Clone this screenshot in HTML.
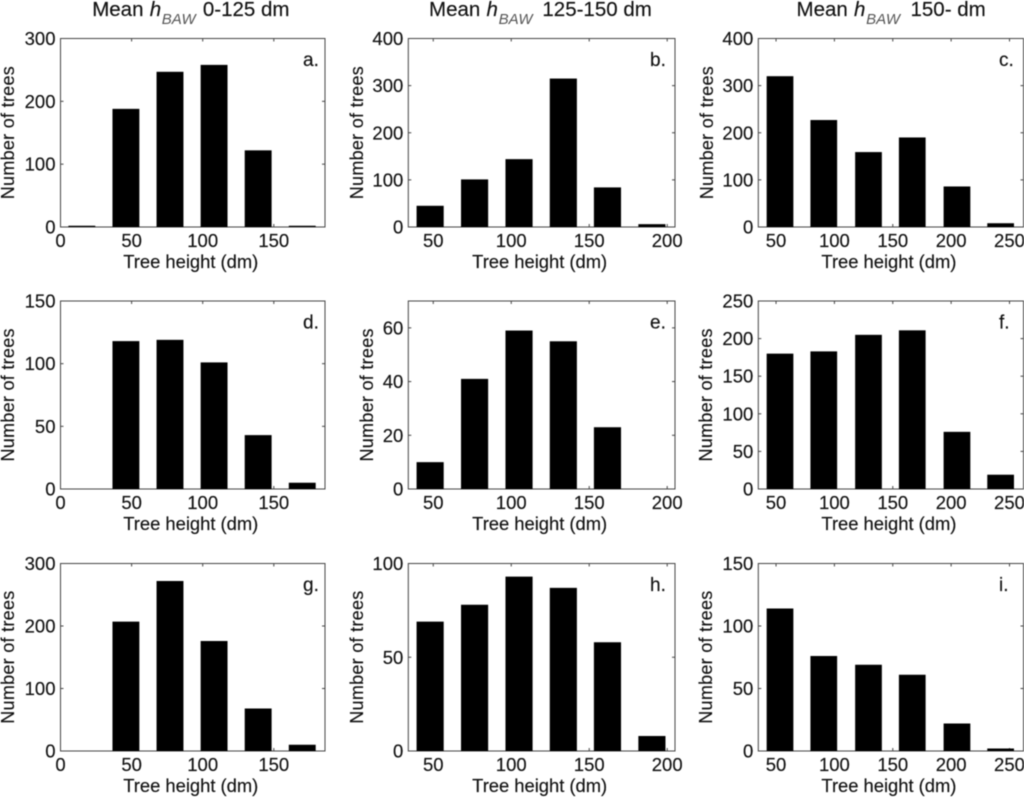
<!DOCTYPE html>
<html lang="en">
<head>
<meta charset="utf-8">
<title>Tree height histograms</title>
<style>
html,body{margin:0;padding:0;background:#fff;}
svg{display:block;filter:blur(0.4px);}
text{font-family:"Liberation Sans",Arial,sans-serif;fill:#111;stroke:#111;stroke-width:0.15px;}
</style>
</head>
<body>
<svg id="figure" xmlns="http://www.w3.org/2000/svg" width="1024" height="797" viewBox="0 0 1024 797"></svg>
<script>
// Chart data
const panelLetters = ['a.', 'b.', 'c.', 'd.', 'e.', 'f.', 'g.', 'h.', 'i.'];
const columnTitles = ['0-125 dm', '125-150 dm', '150- dm'];

const binCentersLow = [15, 46, 77, 108, 139, 170];
const binCentersMid = [48, 76.5, 105, 133.4, 161.7, 190.2];
const binCentersHigh = [53.4, 90.9, 129.2, 166.7, 205, 242.4];

const xDomainLow = [0, 186];
const xDomainMid = [34, 205];
const xDomainHigh = [34.8, 262];

const xTicksLow = [0, 50, 100, 150];
const xTicksMid = [50, 100, 150, 200];
const xTicksHigh = [50, 100, 150, 200, 250];

const valuesA = [2, 188, 247, 258, 122, 2];
const valuesB = [45, 101, 144, 315, 84, 6];
const valuesC = [320, 227, 159, 190, 86, 8];
const valuesD = [0, 118, 119, 101, 43, 5];
const valuesE = [10, 41, 59, 55, 23, 0];
const valuesF = [180, 183, 205, 211, 76, 19];
const valuesG = [0, 207, 272, 176, 68, 10];
const valuesH = [69, 78, 93, 87, 58, 8];
const valuesI = [114, 76, 69, 61, 22, 2];

const yTicksA = [0, 100, 200, 300];
const yTicksB = [0, 100, 200, 300, 400];
const yTicksC = [0, 100, 200, 300, 400];
const yTicksD = [0, 50, 100, 150];
const yTicksE = [0, 20, 40, 60];
const yTicksF = [0, 50, 100, 150, 200, 250];
const yTicksG = [0, 100, 200, 300];
const yTicksH = [0, 50, 100];
const yTicksI = [0, 50, 100, 150];

const yMaxA = 300, yMaxB = 400, yMaxC = 400;
const yMaxD = 150, yMaxE = 70, yMaxF = 250;
const yMaxG = 300, yMaxH = 100, yMaxI = 150;

const allValues = [valuesA, valuesB, valuesC, valuesD, valuesE, valuesF, valuesG, valuesH, valuesI];
const allYTicks = [yTicksA, yTicksB, yTicksC, yTicksD, yTicksE, yTicksF, yTicksG, yTicksH, yTicksI];
const allYMax = [yMaxA, yMaxB, yMaxC, yMaxD, yMaxE, yMaxF, yMaxG, yMaxH, yMaxI];
const allCenters = [binCentersLow, binCentersMid, binCentersHigh];
const allXDomains = [xDomainLow, xDomainMid, xDomainHigh];
const allXTicks = [xTicksLow, xTicksMid, xTicksHigh];

// Layout
const svg = document.getElementById('figure');
const NS = 'http://www.w3.org/2000/svg';
const layoutLeft = [60.5, 408.3, 758.3];
const layoutRight = [325, 675, 1023.5];
const layoutTop = [38.5, 301, 563.5];
const layoutBottom = [227, 489, 751];
const letterX = [303, 650, 999];
const titleStart = [92.2, 429, 796.5];
const yLabelBaseline = [[14, 363, 713], [14, 373, 712], [14, 363, 712]];
const barFraction = 0.61;
const tickLen = 3;
const axisColor = '#444';

function mk(tag, attrs, parent) {
  const el = document.createElementNS(NS, tag);
  for (const k in attrs) el.setAttribute(k, attrs[k]);
  parent.appendChild(el);
  return el;
}

function drawTitle(col) {
  const g = mk('text', {x: titleStart[col], y: 16, 'font-size': 20.5}, svg);
  
  
  const s0 = titleStart[col];
  const restOffset = [110.7, 113.4, 114][col];
  const t1 = mk('tspan', {x: s0}, g);
  t1.textContent = 'Mean';
  const t2 = mk('tspan', {x: s0 + 57.5, 'font-style': 'italic'}, g);
  t2.textContent = 'h';
  const t3 = mk('tspan', {x: s0 + 69.6, y: 24, 'font-style': 'italic', 'font-size': 15, style: 'fill:#555;stroke:none'}, g);
  t3.textContent = 'BAW';
  const t4 = mk('tspan', {x: s0 + restOffset, y: 16}, g);
  t4.textContent = columnTitles[col];
}

function drawPanel(row, col) {
  const idx = row * 3 + col;
  const letter = panelLetters[idx].charAt(0);
  const L = layoutLeft[col], R = layoutRight[col], T = layoutTop[row], B = layoutBottom[row];
  const dom = allXDomains[col];
  const centers = allCenters[col];
  const values = allValues[idx];
  const yMax = allYMax[idx];
  const xScale = v => L + (v - dom[0]) / (dom[1] - dom[0]) * (R - L);
  const yScale = v => B - v / yMax * (B - T);

  const g = mk('g', {}, svg);
  
  

  const frame = mk('rect', {x: L, y: T, width: R - L, height: B - T, fill: '#fff', stroke: axisColor, 'stroke-width': 1}, g);
  
  

  allXTicks[col].forEach(t => {
    const x = xScale(t);
    const tickB = mk('line', {x1: x, x2: x, y1: B, y2: B - tickLen, stroke: axisColor}, g);
    
    
    const tickT = mk('line', {x1: x, x2: x, y1: T, y2: T + tickLen, stroke: axisColor}, g);
    
    
    const lab = mk('text', {x: x, y: B + 20, 'font-size': 18.5, 'text-anchor': 'middle'}, g);
    
    
    lab.textContent = t;
  });

  allYTicks[idx].forEach(t => {
    const y = yScale(t);
    const tickL = mk('line', {x1: L, x2: L + tickLen, y1: y, y2: y, stroke: axisColor}, g);
    
    
    const tickR = mk('line', {x1: R, x2: R - tickLen, y1: y, y2: y, stroke: axisColor}, g);
    
    
    const lab = mk('text', {x: L - 5, y: y + 6.5, 'font-size': 18.5, 'text-anchor': 'end'}, g);
    
    
    lab.textContent = t;
  });

  const step = centers[1] - centers[0];
  const w = step * barFraction;
  values.forEach((v, i) => {
    if (v <= 0) return;
    const x0 = xScale(centers[i] - w / 2);
    const x1 = xScale(centers[i] + w / 2);
    const y = yScale(v);
    const bar = mk('rect', {x: x0, y: y, width: x1 - x0, height: B - y, fill: '#000'}, g);
    
    
  });

  const xTitle = mk('text', {x: (L + R) / 2 - 2, y: B + 41, 'font-size': 18.4, 'text-anchor': 'middle', textLength: 135, lengthAdjust: 'spacing'}, g);
  
  
  xTitle.textContent = 'Tree height (dm)';

  const bx = yLabelBaseline[row][col];
  const by = (T + B) / 2;
  const yTitle = mk('text', {x: 0, y: 0, 'font-size': 18, 'text-anchor': 'middle', textLength: 133, lengthAdjust: 'spacing', transform: 'translate(' + bx + ',' + by + ') rotate(-90)'}, g);
  
  
  yTitle.textContent = 'Number of trees';

  const tag = mk('text', {x: letterX[col], y: T + 27.5, 'font-size': 19}, g);
  
  
  tag.textContent = panelLetters[idx];
}

[0, 1, 2].forEach(drawTitle);
for (let r = 0; r < 3; r++) {
  for (let c = 0; c < 3; c++) drawPanel(r, c);
}
</script>
</body>
</html>
